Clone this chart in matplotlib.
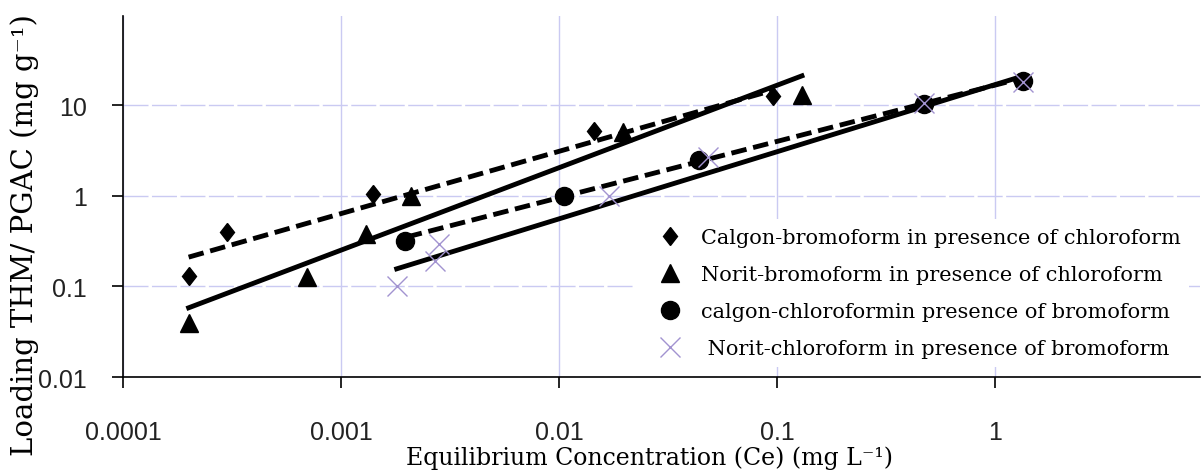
# -*- coding: utf-8 -*-
"""
Freundlich isotherms of THM on PGAC (log-log)
"""

import numpy as np
import matplotlib.pyplot as plt
from matplotlib.markers import MarkerStyle
from matplotlib.transforms import Affine2D

# Calgon - bromoform in presence of chloroform (diamonds)
calgon_br_x = [0.0002, 0.0003, 0.0014, 0.0145, 0.096]
calgon_br_y = [0.13, 0.40, 1.05, 5.2, 12.5]

# Norit - bromoform in presence of chloroform (triangles)
norit_br_x = [0.0002, 0.0007, 0.0013, 0.0021, 0.0197, 0.13]
norit_br_y = [0.039, 0.127, 0.38, 0.98, 5.0, 12.8]

# calgon - chloroform in presence of bromoform (circles)
calgon_cl_x = [0.00197, 0.0105, 0.044, 0.47, 1.34]
calgon_cl_y = [0.32, 0.98, 2.45, 10.4, 18.2]

# Norit - chloroform in presence of bromoform (crosses)
norit_cl_x = [0.0018, 0.0027, 0.0028, 0.017, 0.048, 0.47, 1.34]
norit_cl_y = [0.10, 0.19, 0.29, 1.0, 2.65, 10.5, 18.0]

# trend lines (end points)
fit_calgon_br_x = [0.0002, 0.095]
fit_calgon_br_y = [0.21, 14.5]
fit_norit_br_x = [0.0002, 0.13]
fit_norit_br_y = [0.058, 21.0]
fit_calgon_cl_x = [0.002, 1.35]
fit_calgon_cl_y = [0.35, 20.0]
fit_norit_cl_x = [0.0018, 1.35]
fit_norit_cl_y = [0.156, 21.0]

labels = ['Calgon-bromoform in presence of chloroform',
          'Norit-bromoform in presence of chloroform',
          'calgon-chloroformin presence of bromoform',
          ' Norit-chloroform in presence of bromoform']

x_ticks = [0.0001, 0.001, 0.01, 0.1, 1]
x_ticklabels = ['0.0001', '0.001', '0.01', '0.1', '1']
y_ticks = [0.01, 0.1, 1, 10]
y_ticklabels = ['0.01', '0.1', '1', '10']

serif = ['DejaVu Serif']
narrow = ['Liberation Sans Narrow', 'Liberation Sans', 'DejaVu Sans']
grid_col = '#cacaf2'
cross_col = '#a293d0'

# diamond slightly narrower than tall
diamond = MarkerStyle('D', transform=Affine2D().scale(0.8, 1.0))

fig = plt.figure(figsize=(12.04, 4.77), dpi=100)
ax = fig.add_axes([123/1204, 99/477, 1077/1204, 361/477])

ax.set_xscale('log')
ax.set_yscale('log')
ax.set_xlim(0.0001, 8.7)
ax.set_ylim(0.01, 96)

# grid: solid verticals, dashed horizontals
ax.set_axisbelow(True)
ax.xaxis.grid(True, color=grid_col, lw=1.0, ls='-')
ax.yaxis.grid(True, color=grid_col, lw=1.0, ls=(0, (18, 2.5)))

# markers
ax.plot(calgon_br_x, calgon_br_y, ls='none', marker=diamond, ms=9.5, color='black', zorder=3, label=labels[0])
ax.plot(norit_br_x, norit_br_y, ls='none', marker='^', ms=13.5, color='black', zorder=3, label=labels[1])
ax.plot(calgon_cl_x, calgon_cl_y, ls='none', marker='o', ms=13, color='black', zorder=3, label=labels[2])
ax.plot(norit_cl_x, norit_cl_y, ls='none', marker='x', ms=15, mew=1.0, color=cross_col, zorder=5, label=labels[3])

# trend lines
dash = (0, (3.2, 1.4))
ax.plot(fit_calgon_br_x, fit_calgon_br_y, color='black', lw=3.5, ls=dash, zorder=4)
ax.plot(fit_norit_br_x, fit_norit_br_y, color='black', lw=3.5, ls='-', zorder=4)
ax.plot(fit_calgon_cl_x, fit_calgon_cl_y, color='black', lw=3.5, ls=dash, zorder=4)
ax.plot(fit_norit_cl_x, fit_norit_cl_y, color='black', lw=3.5, ls='-', zorder=4)

# axes look
ax.spines['top'].set_visible(False)
ax.spines['right'].set_visible(False)
ax.spines['left'].set_linewidth(1.2)
ax.spines['bottom'].set_linewidth(1.2)
ax.minorticks_off()
ax.set_xticks(x_ticks)
ax.set_xticklabels(x_ticklabels, family=narrow, fontsize=18, color='#222222')
ax.set_yticks(y_ticks)
ax.set_yticklabels(y_ticklabels, family=narrow, fontsize=18, color='#222222')
ax.tick_params(axis='x', direction='out', length=8, width=1.2, pad=23)
ax.tick_params(axis='y', direction='out', length=8, width=1.2, pad=18)

fig.text(649/1204, 1 - 458/477, 'Equilibrium Concentration (Ce) (mg L\u207b\u00b9)', family=serif,
         fontsize=17, ha='center', va='center')
fig.text(25/1204, 1 - 235/477, 'Loading THM/ PGAC (mg g\u207b\u00b9)', family=serif, fontsize=21,
         rotation=90, ha='center', va='center')

leg = ax.legend(loc='center', bbox_to_anchor=(912/1204, 1 - 294/477), bbox_transform=fig.transFigure,
                prop={'family': serif, 'size': 15}, frameon=True, facecolor='white', edgecolor='none',
                framealpha=1, handlelength=2.6, handletextpad=0.2, labelspacing=0.87, borderpad=0.4)
leg.set_zorder(6)

fig.savefig('out.png', dpi=100)
